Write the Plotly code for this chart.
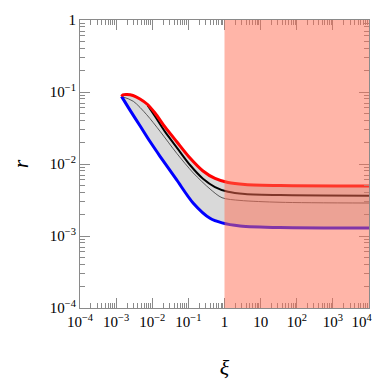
import plotly.graph_objects as go

# upper (red) boundary
red_xi = [1.41e-3, 1.55e-3, 2.0e-3, 2.93e-3, 4.58e-3, 7.16e-3, 0.0119, 0.0225,
          0.0484, 0.111, 0.254, 0.546, 1.25, 3.69, 34.4, 1e4]
red_r = [0.0869, 0.0915, 0.0925, 0.0894, 0.080, 0.0681, 0.0511, 0.0327,
         0.0202, 0.0121, 0.0080, 0.0063, 0.00553, 0.00519, 0.00502, 0.00494]

# lower (blue) boundary
blue_xi = [1.41e-3, 2.42e-3, 4.58e-3, 8.67e-3, 0.0164, 0.0475, 0.137,
           0.397, 0.853, 2.69, 34.4, 1e4]
blue_r = [0.0869, 0.056, 0.034, 0.0205, 0.0128, 0.0060, 0.00285,
          0.00176, 0.00152, 0.00138, 0.00131, 0.00129]

# thick black curve
black_xi = [7.5e-3, 0.0119, 0.0225, 0.0484, 0.111, 0.254, 0.546, 1.25, 3.69, 34.4, 1e4]
black_r = [0.065, 0.046, 0.0281, 0.0168, 0.00968, 0.00624, 0.00479, 0.00412,
           0.00384, 0.0037, 0.00363]

# thin curve
thin_xi = [1.41e-3, 2.99e-3, 7.02e-3, 0.0164, 0.0475, 0.137, 0.397, 0.853, 2.69, 34.4, 1e4]
thin_r = [0.0869, 0.0743, 0.0484, 0.0285, 0.0141, 0.0075, 0.0045, 0.0034,
          0.00312, 0.00294, 0.00287]

x_ticks = [1e-4, 1e-3, 1e-2, 1e-1, 1, 10, 1e2, 1e3, 1e4]
# trailing no-break spaces pull the last label left so it stays inside the page
x_labels = ["10<sup>−4</sup>", "10<sup>−3</sup>", "10<sup>−2</sup>", "10<sup>−1</sup>",
            "1", "10", "10<sup>2</sup>", "10<sup>3</sup>",
            "10<sup>4</sup>\u00a0\u00a0\u00a0\u00a0"]
y_ticks = [1e-4, 1e-3, 1e-2, 1e-1, 1]
y_labels = ["10<sup>−4</sup>", "10<sup>−3</sup>", "10<sup>−2</sup>", "10<sup>−1</sup>", "1"]

shade_from, shade_to = 1, 1e4

FONT = "Liberation Serif"
AX = "#8a8a8a"


def minor_vals(lo, hi):
    out = []
    for e in range(lo, hi):
        out += [m * 10.0 ** e for m in range(2, 10)]
    return out


def curve(x, y, color, width):
    return go.Scatter(x=x, y=y, mode="lines", hoverinfo="skip",
                      line=dict(color=color, width=width, shape="spline", smoothing=0.8))


fig = go.Figure()

# grey band between the blue and red boundaries
fig.add_trace(curve(blue_xi, blue_r, "rgba(0,0,0,0)", 0))
band = curve(red_xi, red_r, "rgba(0,0,0,0)", 0)
band.update(fill="tonexty", fillcolor="#d9d9d9")
fig.add_trace(band)

fig.add_trace(curve(thin_xi, thin_r, "#4a4a4a", 0.9))
fig.add_trace(curve(black_xi, black_r, "black", 2))
fig.add_trace(curve(blue_xi, blue_r, "#0000ff", 3))
fig.add_trace(curve(red_xi, red_r, "#ff0000", 3))

fig.add_shape(type="rect", xref="x", yref="paper", x0=shade_from, x1=shade_to,
              y0=0, y1=1, fillcolor="rgba(255,107,81,0.5)", line=dict(width=0),
              layer="above")

axis_common = dict(
    type="log", showgrid=False, zeroline=False, showline=True, linecolor=AX,
    linewidth=1, mirror="allticks", ticks="inside", ticklen=10, tickcolor=AX,
    tickwidth=1, automargin=False, ticklabeloverflow="allow",
    tickfont=dict(family=FONT, size=15, color="black"),
)

# the page body adds an 8px offset, so the figure is 8px smaller than the window
fig.update_layout(
    width=374, height=372,
    margin=dict(l=72, r=13, t=12, b=72),
    paper_bgcolor="white", plot_bgcolor="white",
    showlegend=False,
    xaxis=dict(axis_common, range=[-4, 4], tickmode="array", tickvals=x_ticks,
               ticktext=x_labels,
               minor=dict(tickmode="array", tickvals=minor_vals(-4, 4), ticks="inside",
                          ticklen=5, tickcolor=AX, tickwidth=1),
               title=dict(text="<i>ξ</i>", font=dict(family=FONT, size=22, color="black"),
                          standoff=32)),
    yaxis=dict(axis_common, range=[-4, 0], tickmode="array", tickvals=y_ticks,
               ticktext=y_labels,
               minor=dict(tickmode="array", tickvals=minor_vals(-4, 0), ticks="inside",
                          ticklen=5, tickcolor=AX, tickwidth=1),
               title=dict(text="<i>r</i>", font=dict(family=FONT, size=22, color="black"),
                          standoff=22)),
)

fig.write_html("out.html")
